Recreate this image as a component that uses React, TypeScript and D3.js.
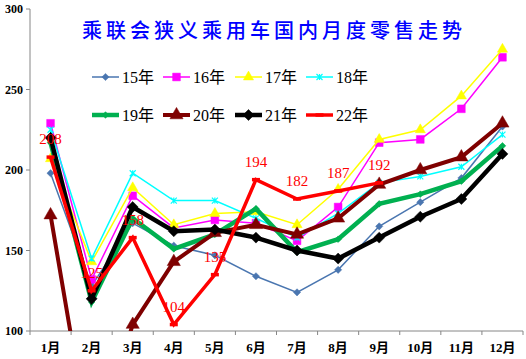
import React from "react";
import * as d3 from "d3";

const months = ["1月", "2月", "3月", "4月", "5月", "6月", "7月", "8月", "9月", "10月", "11月", "12月"];
const yTicks = [100, 150, 200, 250, 300];
const s15 = [198, 128, 167, 153, 147, 134, 124, 138, 165, 180, 195, 227];
const s16 = [229, 132, 184, 164, 169, 167, 156, 177, 217, 219, 238, 270];
const s17 = [207, 143, 189, 166, 173, 174, 166, 188, 219, 225, 246, 275];
const s18 = [225, 145, 198, 181, 181, 170, 158, 173, 192, 196, 202, 222];
const s19 = [217, 118, 170, 151, 160, 176, 149, 157, 179, 185, 193, 215];
const s20 = [172, 22, 104, 143, 161, 166, 160, 170, 191, 200, 208, 229];
const s21 = [220, 120, 177, 162, 163, 158, 150, 145, 158, 171, 182, 210];
const s22 = [208, 125, 158, 104, 135, 194, 182, 187, 192];
const seriesNames = ["15年", "16年", "17年", "18年", "19年", "20年", "21年", "22年"];

type Marker = "diamond" | "square" | "triangle" | "x" | "dash" | "none";
const styles: { color: string; width: number; marker: Marker; size: number }[] = [
  { color: "#4a76b0", width: 1.5, marker: "diamond", size: 26 },
  { color: "#ff00ff", width: 1.5, marker: "square", size: 60 },
  { color: "#ffff00", width: 1.5, marker: "triangle", size: 45 },
  { color: "#00ffff", width: 1.5, marker: "x", size: 3 },
  { color: "#00b050", width: 4.5, marker: "diamond", size: 22 },
  { color: "#7f0000", width: 4, marker: "triangle", size: 75 },
  { color: "#000000", width: 4.5, marker: "diamond", size: 60 },
  { color: "#ff0000", width: 3.5, marker: "dash", size: 4 },
];
const allSeries = [s15, s16, s17, s18, s19, s20, s21, s22];

const W = 526, H = 359;
const left = 30, right = 523, top = 9, bottom = 331;
const serifFont = "'Liberation Serif', 'Noto Sans CJK SC', serif";

function MarkerShape({ m, x, y, color }: { m: typeof styles[0]; x: number; y: number; color: string }) {
  if (m.marker === "none") return null;
  if (m.marker === "x") {
    const s = m.size;
    return <path d={`M${x - s},${y - s}L${x + s},${y + s}M${x - s},${y + s}L${x + s},${y - s}M${x},${y - s}L${x},${y + s}`} stroke={color} strokeWidth={1.2} />;
  }
  if (m.marker === "dash") {
    return <path d={`M${x - m.size},${y}L${x + m.size},${y}`} stroke={color} strokeWidth={m.width} />;
  }
  const type = m.marker === "triangle" ? d3.symbolTriangle : d3.symbolSquare;
  const rot = m.marker === "diamond" ? 45 : 0;
  const d = d3.symbol().type(type).size(m.size)() as string;
  return <path d={d} transform={`translate(${x},${y}) rotate(${rot})`} fill={color} stroke={color} strokeWidth={0.5} />;
}

export default function App() {
  const x = d3.scaleBand<string>().domain(months).range([left, right]).padding(0);
  const y = d3.scaleLinear().domain([100, 300]).range([bottom, top]);
  const cx = (i: number) => (x(months[i]) as number) + x.bandwidth() / 2;
  const line = d3
    .line<number>()
    .x((_, i) => cx(i))
    .y((v) => y(v));

  const legendX = [92, 163, 235, 306];
  const legendY = [77, 115];

  return (
    <svg width={W} height={H} style={{ position: "absolute", left: 0, top: 0, background: "#fff" }}>
      <defs>
        <clipPath id="plot">
          <rect x={left} y={0} width={right - left + 5} height={bottom} />
        </clipPath>
      </defs>
      {/* title */}
      <text x={274} y={38} textAnchor="middle" fontFamily="'Noto Sans CJK SC', sans-serif" fontSize={20} letterSpacing={4} fill="#0000ff" fontWeight={500}>
        乘联会狭义乘用车国内月度零售走势
      </text>
      {/* axes */}
      <line x1={left} x2={left} y1={top} y2={bottom} stroke="#868686" strokeWidth={1} />
      <line x1={left} x2={right} y1={bottom} y2={bottom} stroke="#868686" strokeWidth={1} />
      {yTicks.map((t) => (
        <g key={t}>
          <line x1={left - 4} x2={left} y1={y(t)} y2={y(t)} stroke="#868686" />
          <text x={23} y={y(t) + 4} textAnchor="end" fontFamily={serifFont} fontSize={12} fontWeight="bold" fill="#000">
            {t}
          </text>
        </g>
      ))}
      {months.map((m, i) => (
        <g key={m}>
          <line x1={x(m) as number} x2={x(m) as number} y1={bottom} y2={bottom + 4} stroke="#868686" />
          <text x={cx(i)} y={352} textAnchor="middle" fontFamily={serifFont} fontSize={13} fontWeight="bold" fill="#000">
            {m}
          </text>
        </g>
      ))}
      <line x1={right} x2={right} y1={bottom} y2={bottom + 4} stroke="#868686" />
      {/* series */}
      <g clipPath="url(#plot)">
        {allSeries.map((s, k) => {
          const st = styles[k];
          return (
            <g key={k}>
              <path d={line(s) as string} fill="none" stroke={st.color} strokeWidth={st.width} strokeLinejoin="miter" />
              {s.map((v, i) => (
                <MarkerShape key={i} m={st} x={cx(i)} y={y(v)} color={st.color} />
              ))}
            </g>
          );
        })}
      </g>
      {/* 22 labels */}
      {s22.map((v, i) => (
        <text key={i} x={cx(i)} y={y(v) - 13} textAnchor="middle" fontFamily={serifFont} fontSize={15} fill="#ff0000">
          {v}
        </text>
      ))}
      {/* legend */}
      {seriesNames.map((n, k) => {
        const lx = legendX[k % 4];
        const ly = legendY[Math.floor(k / 4)];
        const st = styles[k];
        return (
          <g key={n}>
            <line x1={lx} x2={lx + 27} y1={ly} y2={ly} stroke={st.color} strokeWidth={st.width} />
            <MarkerShape m={st} x={lx + 13.5} y={ly} color={st.color} />
            <text x={lx + 30} y={ly + 6} fontFamily={serifFont} fontSize={16} fill="#000">
              {n}
            </text>
          </g>
        );
      })}
    </svg>
  );
}
